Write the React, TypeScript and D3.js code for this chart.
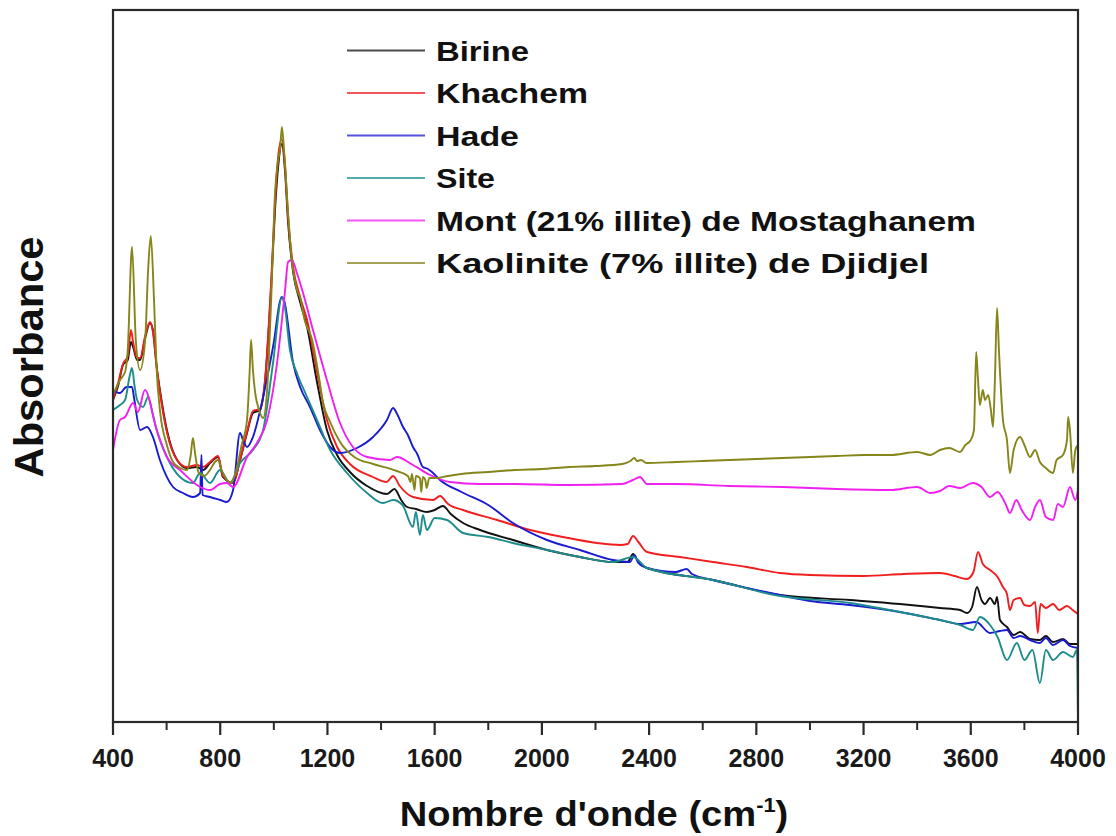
import React from 'react';
import * as d3 from 'd3';

const W = 1116;
const H = 836;
const PLOT = { left: 113, right: 1078, top: 10, bottom: 722 };

const X_DOMAIN = [400, 4000];
const Y_DOMAIN = [0, 0.712];
const MAJOR_TICKS = [400, 800, 1200, 1600, 2000, 2400, 2800, 3200, 3600, 4000];
const MINOR_TICKS = [600, 1000, 1400, 1800, 2200, 2600, 3000, 3400, 3800];

const seriesNames = [
  'Birine',
  'Khachem',
  'Hade',
  'Site',
  'Mont (21% illite) de Mostaghanem',
  'Kaolinite (7% illite) de Djidjel',
];
const seriesColors = ['#111111', '#f01e1e', '#1a1ad2', '#1f8c8c', '#f020f0', '#85851a'];
const legendWidths = [93, 152, 83, 59, 540, 493];

const birine = [
  [400, .322], [420, .337], [437, .357], [455, .362], [467, .380], [475, .375], [490, .362], [501, .362],
  [520, .384], [538, .399], [549, .392], [563, .355], [575, .332], [601, .292], [639, .262], [676, .254],
  [713, .255], [736, .252], [762, .259], [792, .265], [810, .245], [848, .239], [874, .262], [900, .289],
  [922, .309], [948, .312], [967, .340], [990, .435], [1005, .515], [1016, .555], [1030, .578], [1042, .550],
  [1053, .500], [1072, .450], [1098, .420], [1124, .395], [1161, .340], [1198, .292], [1236, .267], [1284, .250],
  [1348, .236], [1422, .228], [1450, .233], [1475, .222], [1497, .215], [1530, .213], [1571, .210], [1600, .212],
  [1631, .216], [1660, .208], [1706, .199], [1769, .192], [1892, .182], [2019, .172], [2142, .165], [2265, .160],
  [2320, .160], [2340, .168], [2360, .160], [2392, .154], [2638, .142], [2888, .127], [3149, .122], [3336, .118],
  [3485, .114], [3560, .112], [3586, .109], [3605, .115], [3623, .135], [3640, .122], [3653, .118], [3672, .124],
  [3690, .118], [3698, .125], [3709, .102], [3735, .095], [3760, .087], [3784, .090], [3821, .083], [3858, .082],
  [3880, .086], [3907, .080], [3944, .083], [3970, .078], [4000, .078],
];

const khachem = [
  [400, .322], [420, .340], [437, .358], [455, .366], [467, .392], [475, .380], [490, .364], [501, .364],
  [520, .386], [538, .400], [549, .390], [563, .355], [575, .330], [601, .290], [639, .262], [676, .255],
  [713, .257], [736, .255], [762, .260], [792, .266], [810, .246], [848, .239], [874, .262], [900, .290],
  [922, .311], [948, .313], [967, .342], [990, .440], [1005, .522], [1016, .565], [1030, .583], [1042, .556],
  [1053, .506], [1072, .455], [1098, .425], [1124, .402], [1161, .350], [1198, .302], [1236, .275], [1284, .258],
  [1370, .245], [1420, .240], [1445, .246], [1470, .236], [1519, .225], [1594, .222], [1620, .226], [1650, .218],
  [1706, .212], [1833, .202], [1956, .192], [2079, .185], [2206, .179], [2291, .177], [2320, .178], [2340, .186],
  [2360, .180], [2392, .170], [2515, .165], [2638, .160], [2765, .155], [2888, .149], [3000, .147], [3200, .146],
  [3350, .148], [3485, .149], [3540, .146], [3586, .143], [3610, .150], [3627, .170], [3645, .158], [3672, .152],
  [3700, .145], [3720, .135], [3735, .128], [3746, .112], [3760, .122], [3784, .124], [3800, .117], [3821, .116],
  [3840, .120], [3850, .089], [3860, .118], [3880, .114], [3907, .118], [3930, .112], [3959, .116], [3980, .112],
  [4000, .108],
];

const hade = [
  [400, .332], [426, .329], [450, .335], [471, .335], [478, .325], [501, .292], [527, .295], [549, .285],
  [575, .262], [624, .235], [661, .229], [698, .225], [725, .229], [730, .267], [734, .227], [762, .225],
  [800, .222], [825, .220], [848, .232], [874, .289], [885, .282], [900, .275], [922, .285], [960, .325],
  [997, .375], [1030, .425], [1038, .422], [1072, .359], [1098, .335], [1135, .315], [1172, .292], [1210, .275],
  [1247, .269], [1310, .274], [1370, .285], [1422, .302], [1445, .314], [1460, .308], [1482, .295], [1500, .287],
  [1519, .275], [1535, .268], [1556, .255], [1575, .253], [1594, .249], [1620, .242], [1700, .230], [1800, .217],
  [1892, .199], [2019, .182], [2142, .172], [2265, .162], [2329, .160], [2345, .167], [2360, .159], [2392, .154],
  [2500, .150], [2540, .153], [2560, .148], [2638, .142], [2765, .134], [2888, .127], [3000, .121], [3149, .117],
  [3336, .110], [3485, .102], [3560, .098], [3620, .100], [3672, .089], [3709, .091], [3735, .092], [3760, .084],
  [3784, .086], [3821, .082], [3858, .079], [3880, .084], [3907, .077], [3944, .082], [3970, .076], [4000, .074],
];

const site = [
  [400, .312], [426, .317], [445, .322], [463, .347], [471, .354], [480, .337], [490, .322], [512, .315],
  [531, .325], [549, .307], [563, .292], [601, .265], [650, .245], [698, .239], [725, .249], [762, .239],
  [799, .252], [836, .239], [874, .259], [922, .272], [960, .292], [997, .359], [1030, .424], [1040, .417],
  [1060, .372], [1086, .349], [1124, .325], [1161, .302], [1210, .272], [1273, .249], [1348, .229], [1407, .219],
  [1445, .222], [1480, .217], [1519, .195], [1530, .210], [1545, .187], [1556, .207], [1571, .192], [1600, .204],
  [1646, .202], [1706, .189], [1800, .185], [1892, .179], [2019, .172], [2142, .165], [2265, .160], [2340, .165],
  [2392, .154], [2638, .142], [2888, .126], [3149, .119], [3336, .110], [3485, .102], [3560, .097], [3608, .092],
  [3634, .105], [3672, .097], [3700, .085], [3735, .062], [3772, .079], [3800, .062], [3830, .072], [3858, .039],
  [3880, .072], [3907, .062], [3944, .070], [3981, .065], [3996, .072], [4000, .002],
];

const mont = [
  [400, .272], [426, .302], [445, .305], [475, .319], [493, .310], [519, .332], [563, .292], [601, .265],
  [650, .252], [725, .235], [762, .232], [799, .238], [825, .239], [848, .235], [900, .265], [937, .279],
  [975, .302], [1012, .359], [1042, .432], [1053, .460], [1068, .462], [1086, .449], [1109, .429], [1146, .392],
  [1198, .342], [1247, .299], [1295, .275], [1348, .265], [1433, .262], [1459, .265], [1519, .257], [1583, .247],
  [1657, .240], [1769, .238], [1900, .238], [2100, .237], [2300, .238], [2340, .242], [2366, .245], [2392, .238],
  [2500, .238], [2700, .236], [2900, .235], [3100, .233], [3300, .232], [3400, .235], [3450, .229], [3485, .231],
  [3520, .236], [3560, .234], [3608, .239], [3640, .235], [3672, .225], [3700, .230], [3730, .218], [3746, .209],
  [3770, .222], [3790, .212], [3821, .202], [3840, .215], [3858, .222], [3880, .205], [3907, .202], [3925, .218],
  [3944, .215], [3970, .235], [3990, .222], [4000, .232],
];

const kaolinite = [
  [400, .327], [426, .342], [445, .350], [455, .372], [471, .475], [485, .382], [501, .352], [520, .382],
  [531, .452], [541, .486], [553, .422], [563, .352], [575, .312], [601, .277], [624, .260], [650, .254],
  [676, .252], [690, .267], [698, .284], [707, .267], [720, .249], [740, .246], [762, .252], [780, .260],
  [792, .262], [805, .252], [825, .242], [840, .239], [860, .252], [880, .277], [900, .302], [910, .352],
  [915, .382], [922, .352], [930, .330], [945, .312], [960, .304], [975, .332], [990, .422], [1005, .532],
  [1016, .562], [1023, .572], [1030, .595], [1038, .572], [1050, .522], [1065, .467], [1086, .432], [1098, .424],
  [1115, .402], [1143, .382], [1170, .342], [1183, .320], [1210, .300], [1247, .280], [1300, .265], [1370, .258],
  [1459, .251], [1500, .246], [1510, .240], [1515, .248], [1525, .232], [1530, .246], [1545, .244], [1550, .230],
  [1556, .245], [1565, .242], [1570, .234], [1580, .244], [1600, .244], [1650, .246], [1700, .248], [1800, .250],
  [1900, .252], [2000, .253], [2100, .255], [2200, .256], [2300, .258], [2330, .261], [2345, .264], [2355, .261],
  [2370, .262], [2390, .259], [2500, .260], [2600, .261], [2700, .262], [2800, .263], [2900, .264], [3000, .265],
  [3100, .266], [3200, .267], [3300, .267], [3400, .270], [3450, .267], [3485, .272], [3520, .274], [3560, .270],
  [3580, .277], [3600, .282], [3612, .292], [3620, .370], [3627, .342], [3634, .317], [3645, .332], [3653, .322],
  [3665, .327], [3675, .312], [3683, .295], [3690, .342], [3698, .414], [3705, .372], [3720, .302], [3735, .282],
  [3746, .249], [3760, .272], [3784, .285], [3800, .277], [3821, .265], [3840, .272], [3858, .260], [3880, .254],
  [3907, .249], [3920, .262], [3944, .267], [3959, .282], [3963, .305], [3970, .292], [3981, .249], [3990, .272],
  [4000, .277],
];

const seriesData = [birine, khachem, hade, site, mont, kaolinite];

const FONT = '"Liberation Sans", Arial, Helvetica, sans-serif';

export default function App() {
  const x = d3.scaleLinear().domain(X_DOMAIN).range([PLOT.left, PLOT.right]);
  const y = d3.scaleLinear().domain(Y_DOMAIN).range([PLOT.bottom, PLOT.top]);
  const line = d3
    .line<number[]>()
    .x((d) => x(d[0]))
    .y((d) => y(d[1]))
    .curve(d3.curveMonotoneX);

  const legendX0 = 347;
  const legendX1 = 425;
  const legendTextX = 436;
  const legendY0 = 50.5;
  const legendStep = 42.5;

  return (
    <svg
      width={W}
      height={H}
      style={{ position: 'absolute', left: 0, top: 0, background: '#ffffff' }}
      fontFamily={FONT}
    >
      <defs>
        <clipPath id="plotClip">
          <rect x={PLOT.left} y={PLOT.top} width={PLOT.right - PLOT.left} height={PLOT.bottom - PLOT.top} />
        </clipPath>
      </defs>
      <rect x={0} y={0} width={W} height={H} fill="#ffffff" />

      <g clipPath="url(#plotClip)">
        {seriesData.map((s, i) => (
          <path
            key={seriesNames[i]}
            d={line(s as number[][]) || ''}
            fill="none"
            stroke={seriesColors[i]}
            strokeWidth={1.9}
            strokeLinejoin="round"
          />
        ))}
      </g>

      <rect
        x={PLOT.left}
        y={PLOT.top}
        width={PLOT.right - PLOT.left}
        height={PLOT.bottom - PLOT.top}
        fill="none"
        stroke="#2a2a2a"
        strokeWidth={2.2}
      />

      {MAJOR_TICKS.map((t) => (
        <g key={'M' + t}>
          <line x1={x(t)} x2={x(t)} y1={PLOT.bottom} y2={PLOT.bottom + 13} stroke="#2a2a2a" strokeWidth={2.2} />
          <text
            x={x(t)}
            y={767}
            textAnchor="middle"
            fontSize={25}
            fontWeight="bold"
            fill="#1a1a1a"
          >
            {t}
          </text>
        </g>
      ))}
      {MINOR_TICKS.map((t) => (
        <line key={'m' + t} x1={x(t)} x2={x(t)} y1={PLOT.bottom} y2={PLOT.bottom + 8} stroke="#2a2a2a" strokeWidth={2} />
      ))}

      <g transform="translate(594,826) scale(1.09,1)">
        <text
          x={0}
          y={0}
          textAnchor="middle"
          fontSize={35}
          fontWeight="bold"
          fill="#111"
        >
          Nombre d'onde (cm
          <tspan fontSize={20} dy={-14}>-1</tspan>
          <tspan dy={14}>)</tspan>
        </text>
      </g>

      <text
        transform="translate(43,357) rotate(-90)"
        textAnchor="middle"
        fontSize={40}
        fontWeight="bold"
        fill="#111"
        textLength={241}
        lengthAdjust="spacingAndGlyphs"
      >
        Absorbance
      </text>

      {seriesNames.map((name, i) => {
        const ly = legendY0 + i * legendStep;
        return (
          <g key={'leg' + i}>
            <line x1={legendX0} x2={legendX1} y1={ly} y2={ly} stroke={seriesColors[i]} strokeWidth={2.2} opacity={0.75} />
            <text
              x={legendTextX}
              y={ly + 10}
              fontSize={27}
              fontWeight="bold"
              fill="#111"
              textLength={legendWidths[i]}
              lengthAdjust="spacingAndGlyphs"
            >
              {name}
            </text>
          </g>
        );
      })}
    </svg>
  );
}
